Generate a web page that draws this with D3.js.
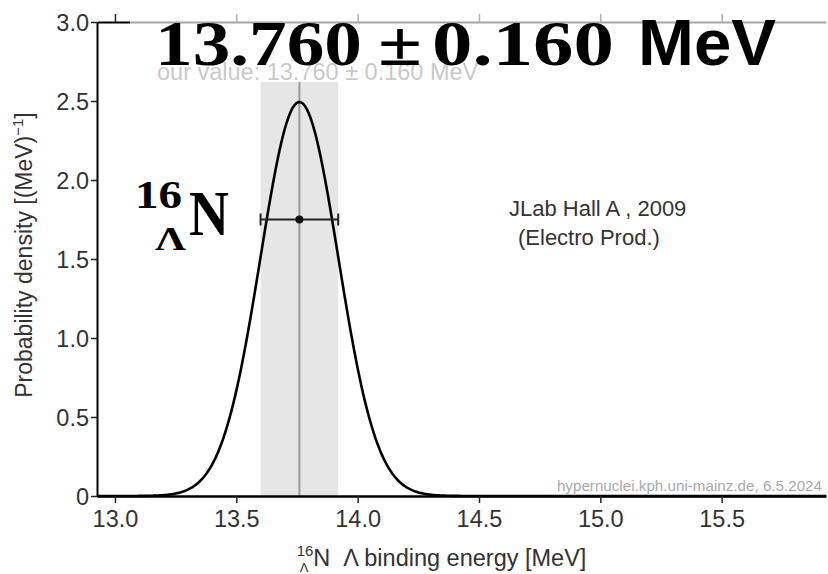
<!DOCTYPE html>
<html>
<head>
<meta charset="utf-8">
<script src="https://cdn.jsdelivr.net/npm/d3@7"></script>
<style>
  body { margin: 0; background: #fff; }
  svg { display: block; }
</style>
</head>
<body>
<svg id="chart" width="828" height="574"></svg>
<script>
// Measured Lambda binding energy of the hypernucleus and its uncertainty
const bindingEnergy = [13.760];
const uncertainty = [0.160];
const experimentLines = ["JLab Hall A , 2009", "(Electro Prod.)"];
const markerDensity = [1.75];      // height of the error-bar marker
const bandTopDensity = [2.62];     // top of the ±1σ band
const credit = ["hypernuclei.kph.uni-mainz.de, 6.5.2024"];

// Axis ticks
const xTicks = [13.0, 13.5, 14.0, 14.5, 15.0, 15.5];
const xTickLabels = ["13.0", "13.5", "14.0", "14.5", "15.0", "15.5"];
const yTicks = [0, 0.5, 1.0, 1.5, 2.0, 2.5, 3.0];
const yTickLabels = ["0", "0.5", "1.0", "1.5", "2.0", "2.5", "3.0"];
const xDomain = [12.926, 15.93];
const yDomain = [0, 3.0];

const svg = d3.select("#chart");
const W = 828;
const plotLeft = 97, plotRight = 826, plotTop = 22, plotBottom = 496;

const x = d3.scaleLinear().domain(xDomain).range([plotLeft, plotRight]);
const y = d3.scaleLinear().domain(yDomain).range([plotBottom, plotTop]);

const mu = bindingEnergy[0], sigma = uncertainty[0];
const pdf = v => Math.exp(-0.5 * ((v - mu) / sigma) ** 2) / (sigma * Math.sqrt(2 * Math.PI));

const sans = "'Liberation Sans', Arial, sans-serif";
const serif = "'Liberation Serif', 'Times New Roman', serif";
const NBSP = "\u00a0";

// ±1σ band and central value line
svg.append("rect")
  .attr("x", x(mu - sigma)).attr("width", x(mu + sigma) - x(mu - sigma))
  .attr("y", y(bandTopDensity[0])).attr("height", y(0) - y(bandTopDensity[0]))
  .attr("fill", "#e6e6e6");
svg.append("line")
  .attr("x1", x(mu)).attr("x2", x(mu))
  .attr("y1", y(bandTopDensity[0])).attr("y2", y(0))
  .attr("stroke", "#999").attr("stroke-width", 2);

// Probability density curve
const samples = d3.range(xDomain[0], xDomain[1] + 1e-9, 0.004);
svg.append("path")
  .datum(samples)
  .attr("fill", "none").attr("stroke", "#000").attr("stroke-width", 2.6)
  .attr("d", d3.line().x(d => x(d)).y(d => y(pdf(d))));

// Error bar with central point
const ey = y(markerDensity[0]);
const eb = svg.append("g").attr("stroke", "#222").attr("stroke-width", 2);
eb.append("line").attr("x1", x(mu - sigma)).attr("x2", x(mu + sigma)).attr("y1", ey).attr("y2", ey);
[mu - sigma, mu + sigma].forEach(v => {
  eb.append("line").attr("x1", x(v)).attr("x2", x(v)).attr("y1", ey - 6).attr("y2", ey + 6);
});
svg.append("circle").attr("cx", x(mu)).attr("cy", ey).attr("r", 4).attr("fill", "#111");

// Axes
const xAxis = svg.append("g").attr("transform", `translate(0,${plotBottom})`)
  .call(d3.axisBottom(x).tickValues(xTicks).tickFormat((d, i) => xTickLabels[i]).tickSize(7).tickSizeOuter(0));
const xTop = svg.append("g").attr("transform", `translate(0,${plotTop})`)
  .call(d3.axisTop(x).tickValues(xTicks).tickFormat("").tickSize(8).tickSizeOuter(0));
const yAxis = svg.append("g").attr("transform", `translate(${plotLeft},0)`)
  .call(d3.axisLeft(y).tickValues(yTicks).tickFormat((d, i) => yTickLabels[i]).tickSize(6).tickSizeOuter(0));

[xAxis, xTop, yAxis].forEach(g => {
  g.select(".domain").attr("stroke", "#000").attr("stroke-width", 2);
  g.selectAll(".tick line").attr("stroke", "#222").attr("stroke-width", 1.5);
  g.selectAll(".tick text").attr("font-family", sans).attr("font-size", 23.5).attr("fill", "#333");
});
xAxis.select(".domain").attr("stroke-width", 2.5);
xAxis.selectAll(".tick text").attr("dy", "0.88em");
yAxis.selectAll(".tick text").attr("x", -8).attr("dy", "0.34em");

// Axis titles
const yt = svg.append("text")
  .attr("transform", `translate(32,255) rotate(-90)`)
  .attr("text-anchor", "middle")
  .attr("font-family", sans).attr("font-size", 23).attr("fill", "#333");
yt.append("tspan").text("Probability density [(MeV)");
yt.append("tspan").attr("font-size", 15).attr("dy", -9).text("−1");
yt.append("tspan").attr("dy", 9).text("]");

const xt = svg.append("g");
const xtText = xt.append("text")
  .attr("font-family", sans).attr("font-size", 23.5).attr("fill", "#333");
xtText.append("tspan").attr("font-size", 15).attr("dy", -10).text("16");
xtText.append("tspan").attr("dy", 10).text(`N${NBSP}${NBSP}Λ binding energy [MeV]`);
xt.append("text")
  .attr("x", 3).attr("y", 6)
  .attr("font-family", sans).attr("font-size", 13).attr("fill", "#333")
  .text("Λ");
const xtW = xt.node().getBBox().width;
xt.attr("transform", `translate(${(297 + 586) / 2 - xtW / 2},566)`);

// Experiment annotation
svg.append("text")
  .attr("x", 509).attr("y", 216)
  .attr("font-family", sans).attr("font-size", 22).attr("fill", "#333")
  .text(experimentLines[0]);
svg.append("text")
  .attr("x", 518).attr("y", 245)
  .attr("font-family", sans).attr("font-size", 22).attr("fill", "#333")
  .text(experimentLines[1]);

// Credit line
svg.append("text")
  .attr("x", 822).attr("y", 491).attr("text-anchor", "end")
  .attr("font-family", sans).attr("font-size", 15.2).attr("fill", "#aaa")
  .text(credit[0]);

// Value caption
svg.append("text")
  .attr("x", 157).attr("y", 80)
  .attr("font-family", sans).attr("font-size", 23.5).attr("fill", "#666")
  .text(`our value: ${mu.toFixed(3)} ± ${sigma.toFixed(3)} MeV`);

// Highlighted result on a translucent panel
svg.append("rect")
  .attr("x", 130).attr("y", 0).attr("width", W - 130).attr("height", 81)
  .attr("fill", "#fff").attr("opacity", 0.65);

const big = svg.append("g").attr("fill", "#000").attr("font-weight", "bold");
const titleParts = [
  { t: mu.toFixed(3), x0: 155, x1: 362, f: serif },
  { t: "±", x0: 378, x1: 422, f: serif },
  { t: sigma.toFixed(3), x0: 432, x1: 614, f: serif },
  { t: "MeV", x0: 638, x1: 776, f: sans }
];
titleParts.forEach(p => {
  big.append("text")
    .attr("x", p.x0).attr("y", 65)
    .attr("font-family", p.f).attr("font-size", 64)
    .attr("textLength", p.x1 - p.x0).attr("lengthAdjust", "spacingAndGlyphs")
    .text(p.t);
});

// Nucleus symbol
const nuc = svg.append("g").attr("fill", "#000").attr("font-weight", "bold").attr("font-family", serif);
nuc.append("text").attr("x", 135).attr("y", 208).attr("font-size", 41)
  .attr("textLength", 47).attr("lengthAdjust", "spacingAndGlyphs").text("16");
nuc.append("text").attr("x", 155).attr("y", 250).attr("font-size", 34)
  .attr("textLength", 31).attr("lengthAdjust", "spacingAndGlyphs").text("Λ");
nuc.append("text").attr("x", 189).attr("y", 235).attr("font-size", 64)
  .attr("textLength", 40).attr("lengthAdjust", "spacingAndGlyphs").text("N");
</script>
</body>
</html>
